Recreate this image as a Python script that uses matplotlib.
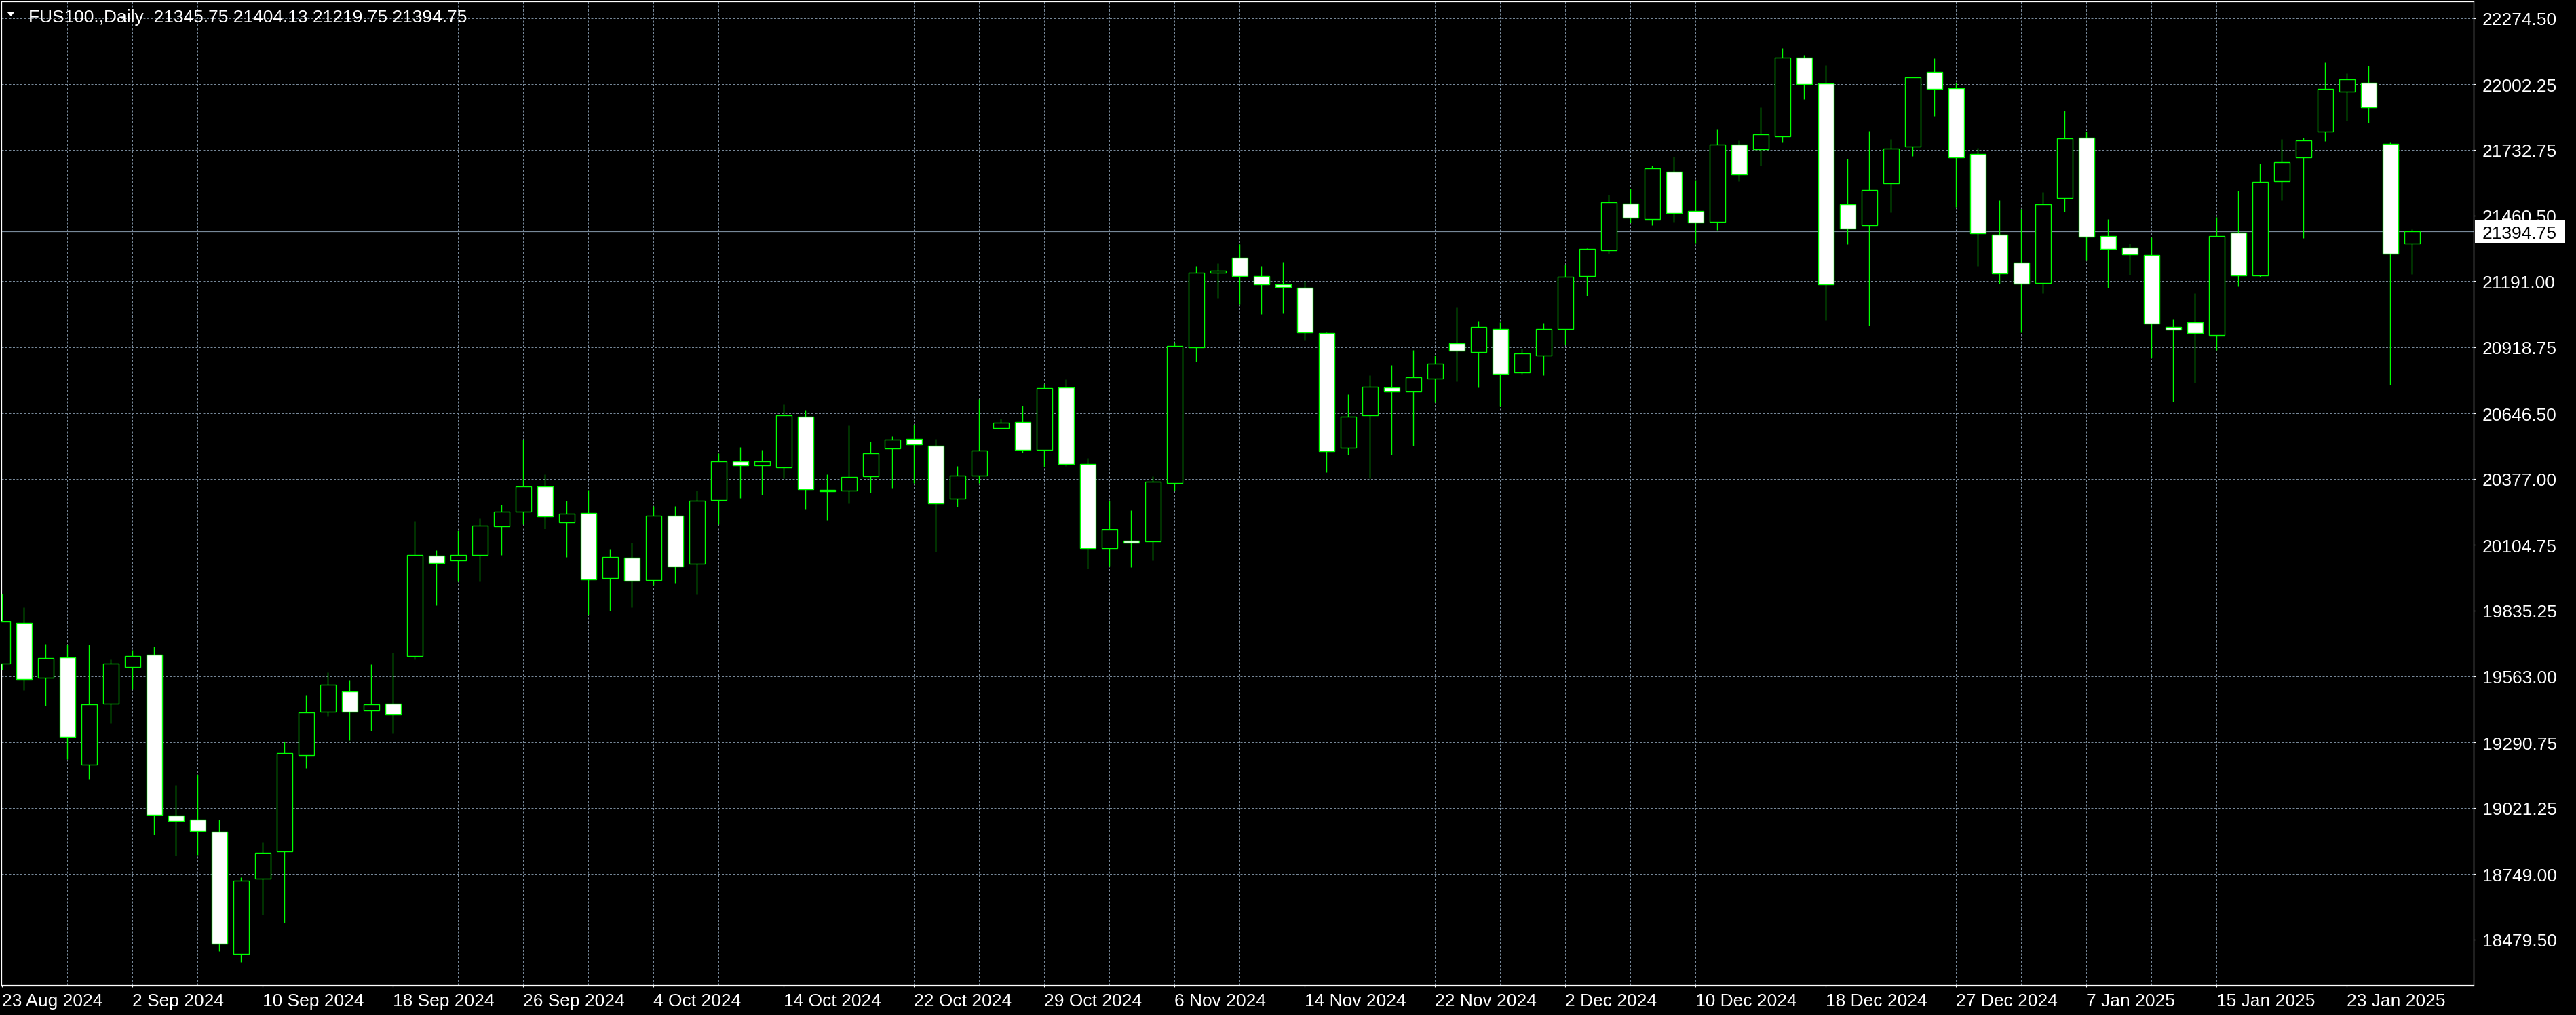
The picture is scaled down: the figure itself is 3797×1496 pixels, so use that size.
import matplotlib
matplotlib.use("Agg")
import matplotlib.pyplot as plt
import matplotlib.transforms as mtransforms
from matplotlib.patches import Rectangle, Polygon

# ---------------- data ----------------
symbol = "FUS100.,Daily"

opens = [19615, 19785, 19558, 19642, 19201, 19450, 19603, 19653, 18991, 18972,
         18922, 18421, 18731, 18843, 19239, 19418, 19502, 19422, 19451, 19646,
         20060, 20040, 20062, 20180, 20241, 20345, 20197, 20236, 19967, 20051,
         19959, 20225, 20026, 20289, 20448, 20432, 20423, 20634, 20332, 20329,
         20388, 20501, 20542, 20514, 20296, 20391, 20586, 20611, 20497, 20754,
         20438, 20092, 20121, 20120, 20358, 20917, 21227, 21286, 21213, 21177,
         21163, 20977, 20506, 20638, 20754, 20736, 20789, 20936, 20899, 20993,
         20814, 20886, 20993, 21211, 21318, 21510, 21446, 21642, 21480, 21435,
         21754, 21733, 21787, 22111, 22005, 21508, 21420, 21594, 21745, 22053,
         21986, 21714, 21382, 21267, 21184, 21532, 21781, 21377, 21329, 21298,
         21002, 21022, 20969, 21391, 21214, 21602, 21700, 21806, 21973, 22009,
         21756, 21345.75]
highs = [19903, 19847, 19696, 19694, 19693, 19634, 19671, 19686, 19115, 19157,
         18973, 18735, 18880, 19294, 19484, 19580, 19548, 19614, 19660, 20203,
         20083, 20164, 20214, 20270, 20538, 20395, 20286, 20331, 20089, 20114,
         20263, 20265, 20328, 20483, 20508, 20495, 20683, 20659, 20397, 20596,
         20530, 20553, 20601, 20542, 20428, 20707, 20624, 20677, 20768, 20787,
         20463, 20288, 20248, 20386, 20938, 21253, 21265, 21343, 21253, 21270,
         21191, 20980, 20725, 20803, 20845, 20907, 20886, 21083, 21027, 21021,
         20912, 21019, 21260, 21327, 21548, 21572, 21668, 21704, 21606, 21819,
         21771, 21908, 22151, 22123, 22081, 21696, 21810, 21777, 22034, 22109,
         22007, 21741, 21525, 21489, 21558, 21894, 21807, 21447, 21346, 21372,
         21036, 21142, 21454, 21564, 21676, 21777, 21782, 22091, 22048, 22078,
         21762, 21404.13]
lows = [19592, 19508, 19444, 19221, 19141, 19371, 19510, 18912, 18824, 18828,
        18432, 18387, 18582, 18548, 19185, 19398, 19299, 19338, 19329, 19634,
        19857, 19953, 19953, 20062, 20188, 20171, 20056, 19816, 19833, 19849,
        19939, 19947, 19902, 20190, 20299, 20313, 20378, 20252, 20205, 20275,
        20320, 20341, 20359, 20077, 20261, 20360, 20584, 20485, 20426, 20429,
        20007, 20018, 20012, 20040, 20330, 20860, 21123, 21098, 21056, 21059,
        20948, 20405, 20478, 20378, 20478, 20514, 20693, 20779, 20754, 20676,
        20810, 20804, 20929, 21132, 21303, 21432, 21422, 21434, 21348, 21403,
        21602, 21666, 21761, 21940, 21029, 21344, 21007, 21475, 21707, 21870,
        21498, 21253, 21180, 20980, 21143, 21477, 21278, 21163, 21216, 20876,
        20695, 20772, 20906, 21171, 21208, 21526, 21367, 21767, 21851, 21842,
        20765, 21219.75]
closes = [19790, 19551, 19637, 19313, 19447, 19617, 19648, 18994, 18967, 18927,
          18461, 18723, 18835, 19248, 19414, 19528, 19418, 19448, 19406, 20062,
          20029, 20062, 20183, 20241, 20345, 20222, 20233, 19962, 20054, 19956,
          20225, 20015, 20286, 20448, 20431, 20449, 20639, 20335, 20326, 20385,
          20483, 20539, 20519, 20276, 20391, 20494, 20609, 20497, 20751, 20438,
          20092, 20170, 20114, 20366, 20923, 21225, 21233, 21211, 21177, 21166,
          20981, 20492, 20632, 20755, 20738, 20794, 20850, 20903, 21001, 20808,
          20892, 20993, 21209, 21323, 21516, 21452, 21656, 21471, 21432, 21754,
          21631, 21796, 22111, 22002, 21178, 21407, 21567, 21737, 22030, 21983,
          21700, 21388, 21223, 21181, 21507, 21779, 21374, 21324, 21301, 21017,
          20991, 20977, 21377, 21214, 21600, 21681, 21770, 21982, 22021, 21908,
          21303, 21394.75]

date_labels = ["23 Aug 2024", "2 Sep 2024", "10 Sep 2024", "18 Sep 2024",
               "26 Sep 2024", "4 Oct 2024", "14 Oct 2024", "22 Oct 2024",
               "29 Oct 2024", "6 Nov 2024", "14 Nov 2024", "22 Nov 2024",
               "2 Dec 2024", "10 Dec 2024", "18 Dec 2024", "27 Dec 2024",
               "7 Jan 2025", "15 Jan 2025", "23 Jan 2025"]
label_every = 6   # bars between date labels

price_levels = [22274.50, 22002.25, 21732.75, 21460.50, 21191.00, 20918.75,
                20646.50, 20377.00, 20104.75, 19835.25, 19563.00, 19290.75,
                19021.25, 18749.00, 18479.50]
current_price = closes[-1]

# ---------------- style ----------------
plt.rcParams["font.family"] = ["Liberation Sans", "DejaVu Sans"]
W, H, DPI = 3798, 1496, 100
BG = "black"
GRID = "#778899"
LIME = "#00ff00"
FS = 19

fig = plt.figure(figsize=(W / DPI, H / DPI), dpi=DPI, facecolor=BG)
# plot area in pixels (left, right, top, bottom measured from top-left)
PL, PR, PT, PB = 2, 3646, 2, 1452
ax = fig.add_axes([PL / W, (H - PB) / H, (PR - PL) / W, (PB - PT) / H])
ax.set_facecolor(BG)

n = len(opens)
bar_px = 32.0
first_px = 3.4
ax.set_xlim((PL - first_px) / bar_px, (PR - first_px) / bar_px)
ax.set_ylim(18291.4, 22343.5)

# grid
dash = (0, (3, 2.5))
for p in price_levels:
    ax.axhline(p, color=GRID, lw=0.72, ls=dash, zorder=1)
for i in range(3, n + 6, 3):
    ax.axvline(i, color=GRID, lw=0.72, ls=dash, zorder=1)

# current price line
ax.axhline(current_price, color=GRID, lw=0.9, zorder=2)

# candles
bw = 0.72
for i in range(n):
    o, h, l, c = opens[i], highs[i], lows[i], closes[i]
    ax.vlines(i, l, h, color=LIME, lw=1.0, zorder=3)
    bull = c >= o
    ax.add_patch(Rectangle((i - bw / 2, min(o, c)), bw, abs(c - o),
                           facecolor=BG if bull else "white",
                           edgecolor=LIME, lw=1.0, zorder=4))

for s in ax.spines.values():
    s.set_color("white")
    s.set_linewidth(0.9)

tick_pos = [k * label_every for k in range(len(date_labels))]
ax.set_xticks(tick_pos)
ax.set_xticklabels([])
ax.yaxis.tick_right()
ax.set_yticks(price_levels)
ax.set_yticklabels([])
ax.tick_params(axis="x", direction="out", length=2.5, width=0.8, color="white")
ax.tick_params(axis="y", direction="out", length=2.5, width=0.8, color="white")

# right price labels
ytrans = mtransforms.blended_transform_factory(ax.transAxes, ax.transData)
ytrans = mtransforms.offset_copy(ytrans, fig=fig, x=0, y=-10.5, units="dots")
xlab = (3659 - PL) / (PR - PL)
for p in price_levels:
    ax.text(xlab, p, f"{p:.2f}", transform=ytrans, color="white", fontsize=FS,
            ha="left", va="baseline", zorder=5, clip_on=False)

# current price box
fig.canvas.draw()
ydisp = ax.transData.transform((0, current_price))[1]
fig.add_artist(Rectangle((3648, ydisp - 17), 133, 34,
                         transform=mtransforms.IdentityTransform(),
                         facecolor="white", edgecolor="none", zorder=6))
fig.text(3659 / W, (ydisp - 10.5) / H, f"{current_price:.2f}", color="black",
         fontsize=FS, ha="left", va="baseline", zorder=7)

# date labels
xtrans = mtransforms.blended_transform_factory(ax.transData, ax.transAxes)
xtrans = mtransforms.offset_copy(xtrans, fig=fig, x=0, y=-(1483 - PB), units="dots")
for pos, lab in zip(tick_pos, date_labels):
    ax.text(pos, 0, lab, transform=xtrans, color="white", fontsize=FS,
            ha="left", va="baseline", clip_on=False)

# title with triangle
title = f"{symbol}  {opens[-1]:.2f} {highs[-1]:.2f} {lows[-1]:.2f} {closes[-1]:.2f}"
fig.text(42 / W, 1 - 33 / H, title, color="white", fontsize=FS,
         ha="left", va="baseline", zorder=7)
fig.add_artist(Polygon([(10, H - 17), (22, H - 17), (16, H - 24)],
                       closed=True, transform=mtransforms.IdentityTransform(),
                       facecolor="white", edgecolor="none", zorder=7))

fig.savefig("out.png", dpi=DPI, facecolor=BG)
